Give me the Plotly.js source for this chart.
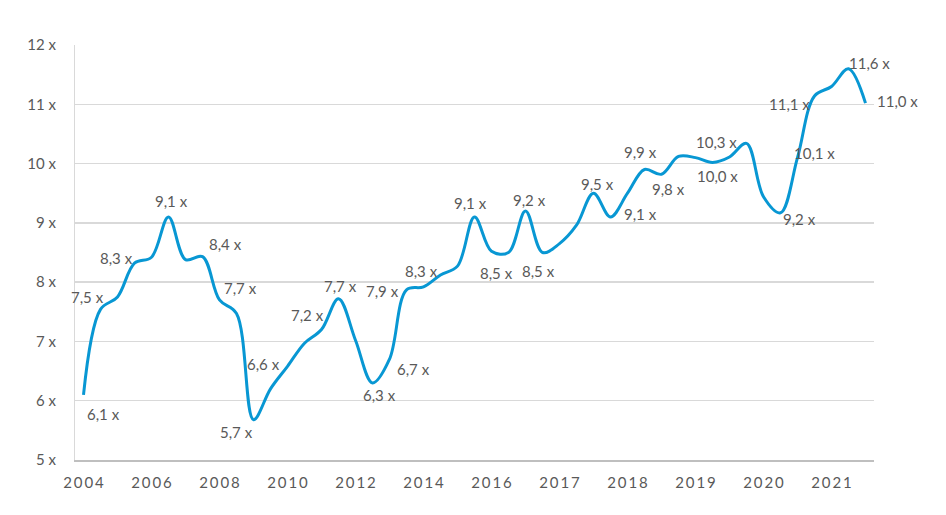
<!DOCTYPE html>
<html>
<head>
<meta charset="utf-8">
<script src="https://cdn.plot.ly/plotly-3.0.1.min.js"></script>
<style>html,body{margin:0;padding:0;background:#fff;}#chart{width:946px;height:515px;}</style>
</head>
<body>
<div id="chart"></div>
<script>
// Data (47 periods, labelled every 4th period on the axis)
const periods = Array.from({length: 47}, (_, i) => i);
const multiples = [
  6.1, 7.54, 7.75, 8.32, 8.42, 9.1, 8.38, 8.43, 7.7, 7.47,
  5.68, 6.2, 6.58, 6.97, 7.2, 7.72, 7.02, 6.3, 6.7, 7.87,
  7.92, 8.12, 8.27, 9.1, 8.52, 8.5, 9.2, 8.5, 8.65, 8.96,
  9.5, 9.1, 9.5, 9.9, 9.82, 10.12, 10.1, 10.02, 10.11, 10.34,
  9.44, 9.17, 10.1, 11.14, 11.3, 11.6, 11.02
];
const tickIdx = [0, 4, 8, 12, 16, 20, 24, 28, 32, 36, 40, 44];
const tickLabels = ["2004", "2006", "2008", "2010", "2012", "2014", "2016", "2017", "2018", "2019", "2020", "2021"];
const yTicks = [5, 6, 7, 8, 9, 10, 11, 12];
const labelledIdx = [0, 1, 3, 5, 7, 8, 10, 12, 14, 15, 17, 18, 19, 22, 23, 24, 26, 27, 30, 31, 33, 34, 37, 39, 41, 42, 43, 45, 46];

// Label placement offsets (pixels: dx right, dy up), styling only
const labelOffsets = {
  0: [20, -19], 1: [-13, 12], 3: [-18, 5], 5: [3, 16], 7: [23, 13], 8: [21, 12],
  10: [-17, -12], 12: [-24, 2], 14: [-14, 15], 15: [2, 13], 17: [7, -12], 18: [24, -10],
  19: [-24, -1], 22: [-36, -5], 23: [-4, 14], 24: [5, -22], 26: [4, 11], 27: [-4, -18],
  30: [4, 9], 31: [30, 3], 33: [-4, 18], 34: [7, -15], 37: [5, -14], 39: [-30, 1],
  41: [19, -6], 42: [17, 5], 43: [-25, -8], 45: [21, 6], 46: [32, 2]
};

const fmt = v => v.toFixed(1).replace('.', ',') + ' x';
const spaced = s => s.split('').join('\u2009');
const textColor = '#595959';
const fontFam = 'Lato, "Open Sans", sans-serif';

const annotations = labelledIdx.map(i => ({
  x: periods[i], y: multiples[i], xref: 'x', yref: 'y',
  text: fmt(multiples[i]), showarrow: false,
  xshift: labelOffsets[i][0], yshift: labelOffsets[i][1],
  font: {family: fontFam, size: 15, color: textColor}
}));

const trace = {
  x: periods, y: multiples, type: 'scatter', mode: 'lines',
  line: {color: '#0897D3', width: 3, shape: 'spline', smoothing: 1},
  hoverinfo: 'skip'
};

const layout = {
  width: 946, height: 515,
  margin: {l: 75, r: 72, t: 45, b: 55},
  paper_bgcolor: '#ffffff', plot_bgcolor: '#ffffff',
  showlegend: false,
  xaxis: {
    range: [-0.5, 46.5], tickmode: 'array', tickvals: tickIdx,
    ticktext: tickLabels.map(spaced),
    showgrid: false, zeroline: false, showline: true, linecolor: '#bfbfbf', linewidth: 1.5,
    ticks: '', ticklabelstandoff: 8,
    tickfont: {family: fontFam, size: 15, color: textColor}
  },
  yaxis: {
    range: [5, 12], tickmode: 'array', tickvals: yTicks,
    ticktext: yTicks.map(v => v + ' x'),
    showgrid: true, gridcolor: '#d9d9d9', gridwidth: 1.5,
    zeroline: false, showline: true, linecolor: '#d9d9d9', linewidth: 1,
    ticks: '', ticklabelstandoff: 15,
    tickfont: {family: fontFam, size: 15, color: textColor}
  },
  annotations: annotations
};

Plotly.newPlot('chart', [trace], layout, {displayModeBar: false, staticPlot: true});
</script>
</body>
</html>
